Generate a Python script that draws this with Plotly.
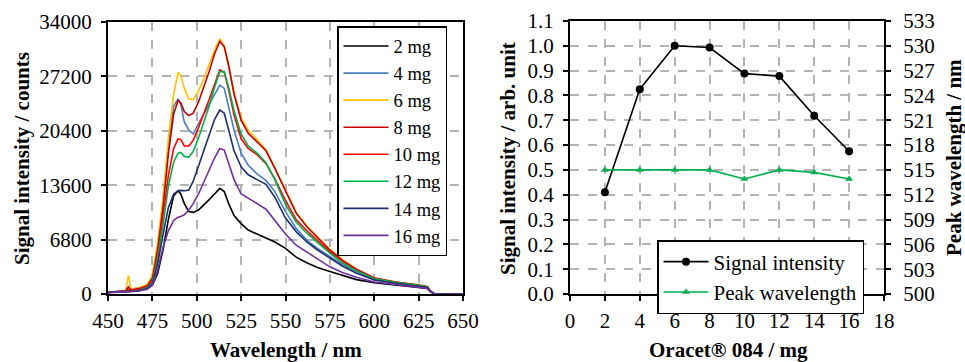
import plotly.graph_objects as go

# ---------------- data: left panel (spectra) ----------------
wavelength = [450, 458, 460, 461.5, 463, 468, 472, 475, 478, 481, 484, 487, 489.5, 491, 493,
              495.5, 498, 501, 504, 507, 510, 513, 515.5, 518, 521, 525, 529, 534, 539, 544,
              550, 556, 562, 568, 575, 582, 590, 600, 612, 625, 630, 631.5, 634, 650]

mg2 = [200, 250, 300, 350, 350, 450, 650, 1100, 2600, 5500, 9300, 12300, 12900, 12500, 11300,
       10300, 10200, 10500, 11100, 11800, 12500, 13200, 12800, 11300, 9800, 8800, 8000, 7500, 7100, 6500,
       5700, 4600, 3900, 3300, 2800, 2300, 1800, 1400, 1150, 850, 700, 300, 0, 0]
mg4 = [200, 300, 400, 600, 600, 800, 1100, 2000, 5800, 11500, 18500, 23500, 24400, 23700, 21500,
       20500, 20000, 21300, 22500, 23800, 25000, 26100, 25700, 23500, 20500, 17600, 16100, 15000, 14200, 12800,
       10300, 8200, 6700, 5700, 4700, 3700, 2800, 1850, 1400, 1050, 850, 350, 0, 0]
mg6 = [200, 300, 450, 2300, 550, 800, 1200, 2400, 6500, 12000, 19500, 25000, 27700, 27300, 25700,
       24400, 24300, 25400, 26900, 28600, 30500, 31900, 31000, 28600, 25200, 22000, 20500, 19300, 18000, 15800,
       12900, 10200, 8500, 7100, 5600, 4300, 3100, 2000, 1500, 1150, 950, 400, 0, 0]
mg8 = [200, 300, 400, 900, 500, 700, 1000, 1900, 5600, 10800, 17500, 22500, 24200, 23900, 22800,
       22300, 22600, 24000, 25800, 27800, 30000, 31600, 30900, 28500, 25000, 21700, 20100, 19000, 17900, 15700,
       12900, 10100, 8400, 7000, 5500, 4200, 3100, 2000, 1500, 1130, 900, 400, 0, 0]
mg10 = [200, 300, 350, 500, 450, 600, 900, 1700, 5000, 9800, 14800, 18200, 19400, 19300, 18500,
        18500, 19200, 20800, 22500, 24300, 26200, 28000, 27700, 25500, 22400, 19400, 18200, 17400, 16300, 14400,
        11700, 9300, 7900, 6700, 5300, 4100, 3000, 1950, 1450, 1100, 880, 380, 0, 0]
mg12 = [200, 250, 300, 350, 350, 500, 800, 1500, 4400, 8600, 13500, 16500, 17600, 17700, 17200,
        17100, 17800, 19500, 21500, 23500, 25800, 27800, 27800, 25800, 22900, 20000, 18500, 17600, 16400, 14300,
        11200, 9000, 7600, 6400, 5100, 3900, 2900, 1900, 1450, 1100, 880, 380, 0, 0]
mg14 = [200, 250, 300, 350, 350, 450, 700, 1300, 3800, 7400, 10800, 12500, 12900, 12950, 12900,
        13000, 14100, 16000, 18000, 20000, 21800, 23000, 22600, 20500, 17900, 15900, 14900, 14300, 13700, 12100,
        9500, 7800, 6500, 5500, 4500, 3500, 2600, 1750, 1350, 1000, 800, 350, 0, 0]
mg16 = [150, 200, 250, 300, 300, 400, 600, 1100, 3000, 5800, 7900, 9200, 9600, 9700, 9900,
        10500, 11300, 12500, 14000, 15500, 17000, 18200, 18000, 16300, 14300, 12500, 12000, 11300, 10600, 9200,
        7500, 6100, 5200, 4400, 3400, 2700, 2100, 1500, 1200, 900, 700, 300, 0, 0]

series_names = ["2 mg", "4 mg", "6 mg", "8 mg", "10 mg", "12 mg", "14 mg", "16 mg"]
series_vals = [mg2, mg4, mg6, mg8, mg10, mg12, mg14, mg16]
series_colors = ["#000000", "#4a7ebb", "#ffc000", "#c00000", "#ff0000", "#00b050", "#1f2f6b", "#7030a0"]

left_yticks = [0, 6800, 13600, 20400, 27200, 34000]
left_xticks = [450, 475, 500, 525, 550, 575, 600, 625, 650]

# ---------------- data: right panel ----------------
oracet_mg = [2, 4, 6, 8, 10, 12, 14, 16]
signal_intensity = [0.41, 0.825, 1.0, 0.993, 0.888, 0.878, 0.718, 0.575]
peak_wavelength = [515.0, 515.0, 515.0, 515.0, 513.9, 515.0, 514.7, 513.9]

W, H = 965, 362
FONT = "Liberation Serif"


def px(x):
    return x / W


def py(y):
    return 1 - y / H


fig = go.Figure()

for name, vals, col in zip(series_names, series_vals, series_colors):
    fig.add_trace(go.Scatter(x=wavelength, y=vals, name=name, mode="lines",
                             line=dict(color=col, width=1.6),
                             xaxis="x", yaxis="y", legend="legend"))

fig.add_trace(go.Scatter(x=oracet_mg, y=signal_intensity, name="Signal intensity",
                         mode="lines+markers", line=dict(color="#000000", width=1.6),
                         marker=dict(symbol="circle", size=8, color="#000000"),
                         xaxis="x2", yaxis="y2", legend="legend2"))
fig.add_trace(go.Scatter(x=oracet_mg, y=peak_wavelength, name="Peak wavelength",
                         mode="lines+markers", line=dict(color="#00b050", width=1.6),
                         marker=dict(symbol="triangle-up", size=7, color="#00b050"),
                         xaxis="x2", yaxis="y3", legend="legend2"))

tickfont = dict(family=FONT, size=21, color="#000000")
grid = dict(showgrid=True, gridcolor="#b4b4b4", griddash="dash", gridwidth=1.5,
            showline=True, linecolor="#000000", linewidth=2, ticks="outside",
            ticklen=5, tickwidth=1.5, tickcolor="#000000", zeroline=False,
            tickfont=tickfont, automargin=False)

ydom = [py(294), py(22)]

fig.update_layout(
    width=W, height=H, autosize=False,
    margin=dict(l=0, r=0, t=0, b=0, autoexpand=False),
    paper_bgcolor="white", plot_bgcolor="white",
    font=dict(family=FONT, size=20, color="#000000"),
    xaxis=dict(domain=[px(108), px(463)], range=[450, 650], tickvals=left_xticks,
               anchor="y", mirror=True, ticklabelstandoff=2, **grid),
    yaxis=dict(domain=ydom, range=[0, 34000], tickvals=left_yticks, tickformat="d",
               anchor="x", mirror=True, ticklabelstandoff=5, **grid),
    xaxis2=dict(domain=[px(570), px(884)], range=[0, 18], dtick=2,
                anchor="y2", mirror=True, ticklabelstandoff=2, **grid),
    yaxis2=dict(domain=[py(294), py(21)], range=[0, 1.1], dtick=0.1, tickformat=".1f",
                anchor="x2", ticklabelstandoff=5, **grid),
    yaxis3=dict(range=[500, 533], tick0=500, dtick=3, overlaying="y2", side="right", anchor="x2",
                showgrid=False, showline=True, linecolor="#000000", linewidth=2,
                ticks="outside", ticklen=5, tickwidth=1.5, tickcolor="#000000", zeroline=False,
                tickfont=tickfont, automargin=False, ticklabelstandoff=8),
    legend=dict(x=px(337), y=py(26), xanchor="left", yanchor="top",
                bgcolor="white", bordercolor="#000000", borderwidth=1.5,
                font=dict(family=FONT, size=18.5, color="#000000"), tracegroupgap=0,
                itemwidth=45),
    legend2=dict(x=px(657), y=py(240), xanchor="left", yanchor="top",
                 bgcolor="white", bordercolor="#000000", borderwidth=1.5,
                 font=dict(family=FONT, size=21, color="#000000"), tracegroupgap=0,
                 itemwidth=45),
    showlegend=True,
)

title_font = dict(family=FONT, size=21, color="#000000")
annots = [
    dict(text="<b>Wavelength / nm</b>", x=px(286), y=py(350)),
    dict(text="<b>Signal intensity / counts</b>", x=px(22), y=py(159), textangle=-90),
    dict(text="<b>Oracet® 084 / mg</b>", x=px(728), y=py(350)),
    dict(text="<b>Signal intensity / arb. unit</b>", x=px(508), y=py(159), textangle=-90),
    dict(text="<b>Peak wavelength / nm</b>", x=px(954), y=py(158), textangle=-90),
]
for a in annots:
    fig.add_annotation(xref="paper", yref="paper", showarrow=False,
                       xanchor="center", yanchor="middle", font=title_font, **a)

fig.write_html("out.html")
